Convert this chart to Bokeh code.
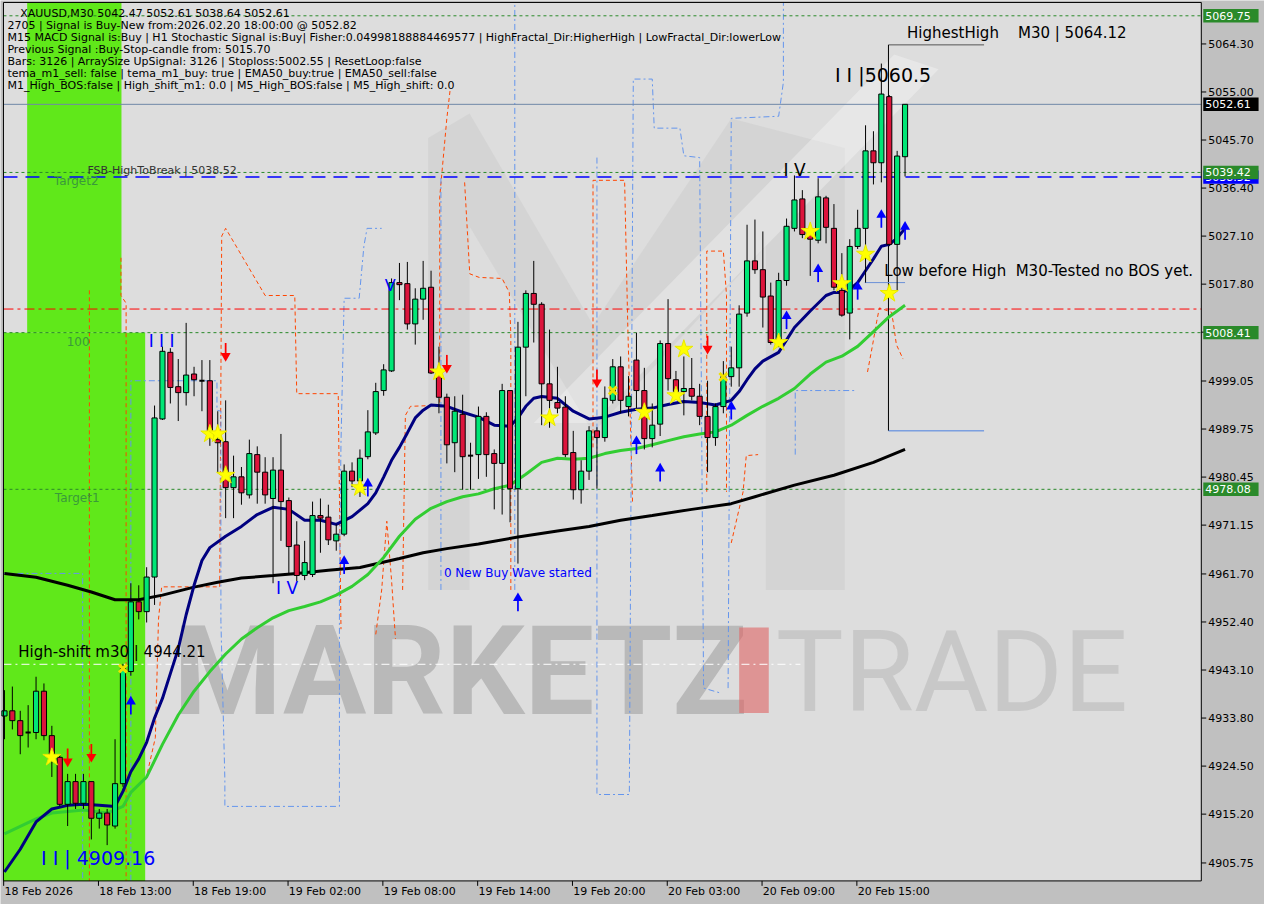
import numpy as np
from bokeh.plotting import figure
from bokeh.models import Label, Range1d
from bokeh.core.properties import value
from bokeh.embed import file_html
from bokeh.resources import INLINE

# ---------------- data ----------------
opens = [4934.2,4935.2,4933.3,4931.0,4931.0,4939.0,4930.4,4926.2,4917.1,4921.5,
         4917.3,4921.5,4914.4,4915.4,4912.9,4921.1,4942.8,4956.3,4954.4,4961.1,
         4991.7,5004.6,4997.95,4996.8,5000.4,4999.1,4999.1,4987.7,4987.3,4978.4,
         4980.5,4977.0,4984.8,4981.4,4976.3,4981.8,4975.9,4967.3,4961.4,4961.6,
         4973.0,4972.7,4968.1,4969.4,4981.6,4979.7,4984.4,4989.0,4997.2,5001.0,
         5018.1,5017.9,5010.1,5014.9,5017.2,5000.6,4995.9,4987.1,4992.6,4984.6,
         4984.8,4992.2,4985.0,4983.1,4997.2,4978.2,5005.6,5016.0,5013.9,4998.5,
         4994.9,4994.0,4985.2,4978.0,4981.6,4989.4,4988.1,4995.3,5001.8,4994.1,
         5003.1,4997.2,4987.9,4990.7,5006.3,4999.3,4997.0,4997.6,4996.1,4992.2,
         4988.1,4994.1,4999.9,5001.6,5012.2,5022.3,5020.6,5015.5,5006.5,5018.5,
         5028.6,5034.3,5027.4,5026.3,5034.5,5028.6,5016.6,5012.2,5025.1,5028.6,
         5043.6,5041.3,5054.1,5025.5,5042.47]
highs = [4939.2,4939.9,4935.2,4936.3,4941.8,4940.5,4932.3,4926.8,4923.0,4923.0,
         4923.0,4921.5,4916.2,4916.2,4929.7,4944.3,4959.9,4959.5,4963.0,4994.3,
         5005.7,5005.4,5003.3,5010.3,5001.8,5003.1,5003.1,4993.2,4995.3,4984.6,
         4982.4,4987.7,4986.4,4984.3,4984.3,4988.8,4976.5,4971.9,4968.1,4975.7,
         4976.3,4975.1,4971.3,4982.9,4983.3,4985.8,4993.4,4998.7,5002.3,5018.9,
         5021.9,5022.1,5017.0,5022.3,5020.4,5005.7,4996.6,4996.1,4996.4,4987.1,
         4994.1,4993.0,4985.8,4998.5,4997.2,5010.5,5016.6,5022.3,5014.3,5009.0,
         5001.8,4996.1,4989.4,4983.7,4990.3,4990.1,4998.0,5003.3,5003.8,5000.0,
         5008.4,5001.6,4994.7,5006.9,5014.9,5001.0,5003.8,5003.5,4998.5,4999.1,
         4994.7,5002.9,5005.7,5013.7,5029.3,5030.3,5028.0,5018.1,5020.0,5030.5,
         5038.85,5036.0,5029.0,5038.3,5034.9,5033.3,5023.8,5026.5,5032.2,5048.55,
         5047.4,5060.5,5054.4,5043.6,5052.61]
lows = [4929.7,4931.6,4926.8,4928.1,4929.7,4929.5,4922.4,4916.7,4912.9,4916.2,
        4916.2,4910.3,4912.4,4909.2,4912.4,4920.5,4942.0,4952.9,4952.3,4955.7,
        4991.5,4994.7,4991.3,4994.3,4996.1,4993.2,4986.5,4981.4,4972.5,4972.5,
        4975.1,4976.3,4975.3,4975.3,4959.9,4968.1,4961.8,4960.3,4960.5,4961.1,
        4965.8,4967.3,4966.2,4969.0,4978.5,4976.6,4983.9,4988.6,4996.2,5000.8,
        5014.7,5009.0,5006.1,5010.9,5000.4,4992.8,4983.1,4981.4,4978.0,4978.0,
        4980.1,4980.5,4974.2,4973.2,4971.7,4963.7,4996.1,5006.5,4990.5,4990.0,
        4992.8,4984.3,4976.1,4975.3,4979.9,4978.2,4987.3,4994.7,4992.8,4992.2,
        4993.8,4985.8,4986.2,4988.4,4997.2,4996.2,4992.4,4995.3,4990.5,4981.4,
        4986.5,4992.8,4997.95,4997.95,5011.5,5019.8,5009.4,5006.1,5005.6,5017.5,
        5028.0,5026.7,5019.4,5025.7,5025.7,5016.6,5011.5,5007.1,5024.6,5018.1,
        5037.1,5037.5,5025.15,5016.6,5038.64]
closes = [4935.2,4933.3,4930.4,4931.0,4939.0,4930.4,4926.8,4917.1,4921.5,4917.3,
          4921.5,4914.4,4915.4,4913.1,4921.1,4943.4,4956.3,4954.4,4961.1,4991.9,
          5004.8,4997.8,4996.8,5000.2,4999.3,4999.1,4989.4,4987.1,4978.4,4980.5,
          4977.4,4985.0,4981.4,4977.0,4981.8,4975.7,4967.0,4961.4,4963.9,4973.0,
          4972.5,4968.3,4969.4,4981.6,4979.7,4984.1,4989.2,4997.0,5001.2,5018.1,
          5017.7,5010.1,5014.9,5017.0,5000.6,4995.9,4986.7,4993.2,4984.4,4984.6,
          4992.2,4984.8,4983.1,4997.2,4978.2,5005.6,5016.0,5013.9,4998.5,4995.3,
          4993.8,4984.8,4978.0,4981.6,4989.4,4988.1,4995.7,5001.8,4995.3,4996.1,
          4997.2,4987.9,4990.5,5006.3,4999.5,4997.0,4997.6,4996.1,4992.2,4988.1,
          4994.1,4999.9,5001.6,5012.0,5022.3,5020.6,5015.3,5006.5,5018.5,5029.0,
          5034.1,5027.4,5026.5,5034.7,5028.8,5017.2,5011.8,5025.1,5028.6,5043.6,
          5041.3,5054.6,5025.5,5042.6,5052.61]

# moving averages (bar index, price)
fast_bar = [0,2,4,6,8,10,12,14,15,16,17,18,19,20,21,22,23,24,25,26,28,30,32,34,36,38,40,42,44,46,47,48,49,50,51,52,53,54,56,58,60,62,64,65,66,67,68,70,72,74,76,78,80,82,84,86,88,90,92,93,94,95,96,98,100,102,104,105,106,107,108,109,110,111,112,113,114]
fast_val = [4904.0,4908.4,4913.7,4916.2,4916.9,4917.1,4916.9,4916.7,4919.6,4923.4,4925.9,4929.1,4933.8,4937.6,4942.4,4947.2,4953.8,4959.5,4964.3,4966.8,4969.0,4970.9,4973.2,4974.6,4974.2,4972.1,4972.1,4971.3,4972.8,4975.3,4977.4,4980.45,4983.7,4986.2,4989.0,4991.9,4993.4,4994.4,4994.15,4993.0,4992.05,4990.5,4990.3,4991.9,4994.15,4995.7,4996.05,4995.7,4993.2,4991.7,4992.05,4993.0,4993.6,4993.8,4994.5,4995.1,4994.9,4994.4,4995.3,4997.0,4999.3,5001.4,5002.9,5004.6,5009.4,5012.6,5015.6,5016.2,5016.2,5016.8,5018.1,5020.4,5022.7,5025.15,5025.5,5026.7,5028.6]
mid_bar = [0,4,6,10,13,15,16,18,20,22,24,26,28,30,32,34,36,38,40,42,44,46,48,50,52,54,56,58,60,62,64,66,68,70,72,74,76,78,80,82,84,86,88,90,92,94,96,98,100,102,104,106,108,110,112,114]
mid_val = [4911.4,4914.3,4915.4,4916.0,4915.4,4916.7,4919.4,4922.4,4928.7,4934.4,4939.0,4942.8,4946.2,4949.1,4951.3,4953.2,4954.6,4955.4,4956.3,4957.6,4959.3,4961.6,4964.9,4969.0,4972.3,4974.4,4975.7,4976.65,4977.2,4978.2,4978.9,4981.0,4983.3,4984.1,4983.9,4984.1,4985.0,4985.6,4986.0,4986.7,4987.5,4988.25,4988.8,4989.2,4990.5,4992.4,4994.15,4995.7,4997.6,5000.4,5002.7,5003.85,5005.75,5008.6,5011.5,5013.7]
slow_bar = [0,4,8,11,14,17,20,24,27,30,34,37,41,45,50,53,56,60,65,70,74,78,82,87,92,95,100,105,110,114]
slow_val = [4961.8,4961.05,4959.5,4958.2,4956.7,4956.7,4957.6,4959.15,4960.1,4960.9,4961.4,4961.8,4962.4,4962.95,4964.7,4965.8,4966.6,4967.5,4968.85,4970.0,4970.9,4972.1,4973.0,4974.2,4975.3,4976.65,4978.9,4980.8,4983.3,4985.8]

# envelope / channel step lines (bar index, price)
orange_paths = [
    ([10.75, 10.75], [5016.6, 4902.3]),
    ([14.75, 14.75, 15.4, 15.4], [5022.9, 5015.6, 5014.1, 4902.3]),
    ([17.9, 19.1, 19.5, 19.9, 27.25, 27.5, 28.0, 33.0, 36.75, 37.0, 42.25, 42.6],
     [4921.9, 4930.0, 4952.9, 4959.2, 4959.2, 5027.1, 5028.6, 5015.6, 5015.6, 4996.6, 4996.6, 4951.0]),
    ([47.0, 47.75, 48.4, 49.0, 49.5], [4950.0, 4958.6, 4971.9, 4960.5, 4949.1]),
    ([50.4, 50.75, 51.4, 55.1, 55.1, 56.0, 56.4],
     [4958.6, 4992.4, 4994.15, 4994.35, 5034.7, 5049.9, 5055.2]),
    ([58.25, 58.9, 60.1, 63.0, 63.9, 64.1, 64.1],
     [5037.5, 5019.8, 5019.1, 5018.9, 5016.2, 5008.0, 4958.6]),
    ([74.5, 74.5, 78.5, 78.9, 79.5], [4986.2, 5037.9, 5037.9, 5009.9, 4975.7]),
    ([88.9, 88.9, 91.0, 91.4, 91.4], [4977.6, 5024.2, 5024.2, 5015.6, 4977.6]),
    ([92.0, 93.5, 93.9, 95.4], [4967.7, 4977.6, 4984.6, 4984.8]),
    ([109.25, 109.9, 110.4, 110.75, 112.25, 112.5, 112.9, 113.75],
     [5000.8, 5006.1, 5010.5, 5013.2, 5012.4, 5010.5, 5006.1, 5003.3]),
]
blue_paths = [
    ([-0.125, 9.9, 9.9], [4961.8, 4961.8, 4902.3]),
    ([16.0, 16.0, 26.9, 26.9, 27.4, 27.4, 27.9, 27.9, 42.4, 42.4, 42.6, 43.0, 44.9, 45.5, 45.9, 47.75],
     [4902.3, 4999.1, 4999.1, 4993.4, 4993.2, 4952.5, 4921.9, 4916.7, 4916.7, 4959.15, 4987.1,
      5015.07, 5015.07, 5025.15, 5028.6, 5028.6]),
    ([55.25, 55.25], [4958.6, 5038.5]),
    ([64.6, 64.6], [4958.6, 5072.3]),
    ([75.0, 75.0, 79.1, 79.6, 82.0, 82.25, 85.5, 86.0, 88.0, 88.5, 90.75],
     [5042.3, 4919.0, 4919.0, 5057.5, 5057.5, 5048.0, 5048.0, 5042.65, 5042.3, 4939.6, 4938.6]),
    ([91.6, 92.0, 98.0, 98.6, 98.6], [4939.6, 5049.9, 5050.3, 5056.9, 5072.3]),
    ([100.1, 100.1, 107.75], [4984.8, 4997.2, 4997.2]),
]

# signals
star_bar = [6,26,27,28,45,55,69,81,85,86,98,102,106,109,112]
star_val = [4926.2,4988.8,4988.8,4980.8,4978.4,5000.8,4991.9,4993.0,4996.2,5005.2,5006.5,5028.0,5017.9,5023.6,5016.0]
cross_bar = [15,77,91]
cross_val = [4943.4,4997.2,4999.85]
up_bar = [16,43,46,65,80,83,92,99,103,108,111,114]
up_val = [4936.7,4963.9,4978.9,4956.7,4987.1,4981.8,4993.8,5011.3,5020.4,5017.0,5030.9,5028.6]
dn_bar = [8,11,28,56,75,89]
dn_val = [4925.7,4926.6,5004.2,5001.9,4999.1,5005.6]

# levels
green_levels = [5069.75, 5039.42, 5008.41, 4978.08]
last_price = 5052.61
fsb_level = 5038.52
red_level = 5012.98
high_shift = 4944.21
hh_bar, hh_end, hh_price, hh_low = 112, 124, 5064.12, 4989.4
lbh_bar0, lbh_bar1, lbh_price = 109, 114, 5018.1

ytick_vals = [5064.30, 5055.00, 5045.70, 5036.40, 5027.10, 5017.80, 5008.50, 4999.05, 4989.75,
              4980.45, 4971.15, 4961.70, 4952.40, 4943.10, 4933.80, 4924.50, 4915.20, 4905.75]
xtick_bars = [0, 12, 24, 36, 48, 60, 72, 84, 96, 108]
xtick_labels = ["18 Feb 2026", "18 Feb 13:00", "18 Feb 19:00", "19 Feb 02:00", "19 Feb 08:00",
                "19 Feb 14:00", "19 Feb 20:00", "20 Feb 03:00", "20 Feb 09:00", "20 Feb 15:00"]

header = ["XAUUSD,M30  5042.47 5052.61 5038.64 5052.61",
          "2705 | Signal is Buy-New from:2026.02.20 18:00:00 @ 5052.82",
          "M15 MACD Signal is:Buy | H1 Stochastic Signal is:Buy| Fisher:0.04998188884469577 | HighFractal_Dir:HigherHigh | LowFractal_Dir:lowerLow",
          "Previous Signal :Buy-Stop-candle from: 5015.70",
          "Bars: 3126 | ArraySize UpSignal: 3126 | Stoploss:5002.55 | ResetLoop:false",
          "tema_m1_sell: false | tema_m1_buy: true | EMA50_buy:true | EMA50_sell:false",
          "M1_High_BOS:false | High_shift_m1: 0.0 | M5_High_BOS:false | M5_High_shift: 0.0"]

# ---------------- geometry helpers (screen position -> data) ----------------
def bx(xr):
    return (xr - 4) / 8.0

def py(yr):
    return 5072.71 - 0.19022 * yr

X0, X1 = bx(3), bx(1216)          # plot area in bar units
PB, PT = py(896), py(2)           # plot area in price units

p = figure(width=1264, height=904, x_range=Range1d(bx(0), bx(1280)), y_range=Range1d(py(920), py(0)),
           output_backend="svg", toolbar_location=None, x_axis_type=None, y_axis_type=None,
           background_fill_color="#c0c0c0", border_fill_color="#c0c0c0",
           min_border=0)
p.grid.visible = False
p.outline_line_color = None

# plot area
p.quad(left=[X0], right=[X1], bottom=[PB], top=[PT], fill_color="#dddddd", line_color=None)

# zones
p.quad(left=[bx(27)], right=[bx(122.5)], bottom=[5008.41], top=[PT], fill_color="#60E81A", line_color=None)
p.quad(left=[X0], right=[bx(146.5)], bottom=[PB], top=[5008.41], fill_color="#60E81A", line_color=None)

# logo watermark
mx = [bx(v) for v in [433, 475, 600, 740, 855, 855, 775, 775, 600, 475, 475, 433]]
my = [py(v) for v in [140, 115, 330, 120, 150, 600, 600, 250, 440, 230, 600, 600]]
p.patch(mx, my, fill_color="#b4b4b4", fill_alpha=0.2, line_color=None)
sx = [bx(v) for v in [540, 600, 950, 905]]
sy = [py(v) for v in [430, 430, 70, 55]]
p.patch(sx, sy, fill_color="white", fill_alpha=0.3, line_color=None)

p.text(x=[bx(175)], y=[py(683)], text=["MARKETZ"], text_font=value("Roboto"), text_font_style="bold",
       text_font_size="124px", text_color="#9a9a9a", text_alpha=0.55, text_baseline="middle", text_align="left")
p.quad(left=[bx(748)], right=[bx(778)], bottom=[py(725)], top=[py(638)], fill_color="#e06464",
       fill_alpha=0.6, line_color=None)
p.text(x=[bx(785)], y=[py(683)], text=["TRADE"], text_font=value("Roboto"),
       text_font_size="114px", text_color="#c4c4c4", text_alpha=0.85, text_baseline="middle", text_align="left")

# channel step lines
for xs_, ys_ in orange_paths:
    p.line(xs_, ys_, line_color="#FF4500", line_dash="4 3", line_width=1)
for xs_, ys_ in blue_paths:
    p.line(xs_, ys_, line_color="#6495ED", line_dash="6 3 2 3", line_width=1)

# horizontal levels
for lv in green_levels:
    p.line(x=[X0, X1], y=[lv, lv], line_color="#2a8a2a", line_dash="3 3", line_width=1)
p.line(x=[X0, X1], y=[last_price, last_price], line_color="#7088a8", line_width=1)
p.line(x=[X0, X1], y=[fsb_level, fsb_level], line_color="#0000ff", line_dash="14 8", line_width=1.5)
p.line(x=[X0, X1], y=[red_level, red_level], line_color="#ff0000", line_dash="10 4 3 4", line_width=1)
p.line(x=[X0, bx(810)], y=[high_shift, high_shift], line_color="white", line_dash="8 4 2 4", line_width=1)

# highest-high construction
p.line(x=[hh_bar - 0.1, hh_end], y=[hh_price, hh_price], line_color="#555555", line_width=1)
p.line(x=[hh_bar - 0.1, hh_bar - 0.1], y=[hh_price, hh_low], line_color="black", line_width=1)
p.line(x=[hh_bar - 0.1, hh_end], y=[hh_low, hh_low], line_color="#4a7fe0", line_width=1)
p.line(x=[lbh_bar0 - 0.1, lbh_bar1], y=[lbh_price, lbh_price], line_color="#6a90d8", line_width=1)

# moving averages
p.line(slow_bar, slow_val, line_color="black", line_width=3)
p.line(mid_bar, mid_val, line_color="#32CD32", line_width=3)
p.line(fast_bar, fast_val, line_color="#000080", line_width=3)

# candles
xs = np.arange(len(opens))
o = np.array(opens); c = np.array(closes)
p.segment(x0=xs, y0=lows, x1=xs, y1=highs, line_color="black", line_width=1)
up = c > o
dn = c < o
eq = c == o
p.vbar(x=xs[up], width=0.65, top=c[up], bottom=o[up], fill_color="#00E676", line_color="black", line_width=1)
p.vbar(x=xs[dn], width=0.65, top=o[dn], bottom=c[dn], fill_color="#DC143C", line_color="black", line_width=1)
p.segment(x0=xs[eq] - 0.33, y0=o[eq], x1=xs[eq] + 0.33, y1=o[eq], line_color="black", line_width=2)

# signals
p.scatter(star_bar, star_val, marker="star", size=19, fill_color="#ffff00", line_color="#e8e800")
p.scatter(cross_bar, cross_val, marker="x", size=11, line_color="#f0e000", line_width=3)
ub = np.array(up_bar, dtype=float); uv = np.array(up_val)
p.vbar(x=ub, width=0.22, top=uv, bottom=uv - 2.2, fill_color="#0000ff", line_color=None)
p.scatter(ub, uv + 0.3, marker="triangle", size=10, fill_color="#0000ff", line_color=None)
db = np.array(dn_bar, dtype=float); dv = np.array(dn_val)
p.vbar(x=db, width=0.22, top=dv + 2.2, bottom=dv, fill_color="#ff0000", line_color=None)
p.scatter(db, dv - 0.3, marker="inverted_triangle", size=10, fill_color="#ff0000", line_color=None)

# frame border and axes
p.line(x=[X0, X0, X1, X1, X0], y=[PT, PB, PB, PT, PT], line_color="black", line_width=1)
p.segment(x0=[X1] * len(ytick_vals), y0=ytick_vals, x1=[bx(1221)] * len(ytick_vals), y1=ytick_vals,
          line_color="black", line_width=1)
p.text(x=[bx(1223)] * len(ytick_vals), y=ytick_vals, text=[f"{v:.2f}" for v in ytick_vals],
       text_font=value("DejaVu Sans"), text_font_size="11px", text_color="black",
       text_baseline="middle", text_align="left")
xt = [b - 0.1 for b in xtick_bars]
p.segment(x0=xt, y0=[PB] * len(xt), x1=xt, y1=[py(901)] * len(xt), line_color="black", line_width=1)
p.text(x=[b + 0.1 for b in xt], y=[py(907)] * len(xt), text=xtick_labels,
       text_font=value("DejaVu Sans"), text_font_size="11px", text_color="black",
       text_baseline="middle", text_align="left")

# ---------------- texts ----------------
def lab(t, xr, yr, size=11, color="black", font="DejaVu Sans", style="normal"):
    p.add_layout(Label(x=bx(xr), y=py(yr), text=t, text_font=font, text_font_size=f"{size}px",
                       text_color=color, text_baseline="middle", text_align="left", text_font_style=style))

lab(header[0], 20, 13)
for k, line in enumerate(header[1:]):
    lab(line, 7, 25 + k * 12.2)

NB = "\u00a0"
lab("Target2", 54, 184, 12, "#3a9a3a")
lab("100", 67, 347, 12, "#3a9a3a")
lab("Target1", 55, 506, 12, "#3a9a3a")
lab("FSB-HighToBreak | 5038.52", 88, 173, 11, "#333333")
lab("I I I", 150, 347, 17, "#0000ff")
lab("I V", 279, 598, 17, "#0000ff")
lab("V", 389, 290, 16, "#0000ff")
lab("0 New Buy Wave started", 449, 583, 12, "#0000ff")
lab("I V", 793, 172, 17, "black")
lab("I I |5060.5", 845, 76, 19, "black")
lab("HighestHigh" + NB * 4 + "M30 | 5064.12", 918, 33, 15, "black")
lab("Low before High" + NB * 2 + "M30-Tested no BOS yet.", 895, 275, 15, "black")
lab("High-shift m30 | 4944.21", 18, 663, 15, "black")
lab("I I | 4909.16", 41, 873, 19, "#0000ff")

# right-axis price tags
def tag(price, bg):
    p.quad(left=[bx(1218)], right=[bx(1274)], bottom=[price - 1.3], top=[price + 1.3],
           fill_color=bg, line_color=None)
    p.text(x=[bx(1220)], y=[price], text=[f"{price:.2f}"], text_font=value("DejaVu Sans"),
           text_font_size="11px", text_color="white", text_baseline="middle", text_align="left")

tag(fsb_level, "#0000ff")
for lv in green_levels:
    tag(lv, "#2a8a2a")
tag(last_price, "black")

open("out.html", "w").write(file_html(p, INLINE))
